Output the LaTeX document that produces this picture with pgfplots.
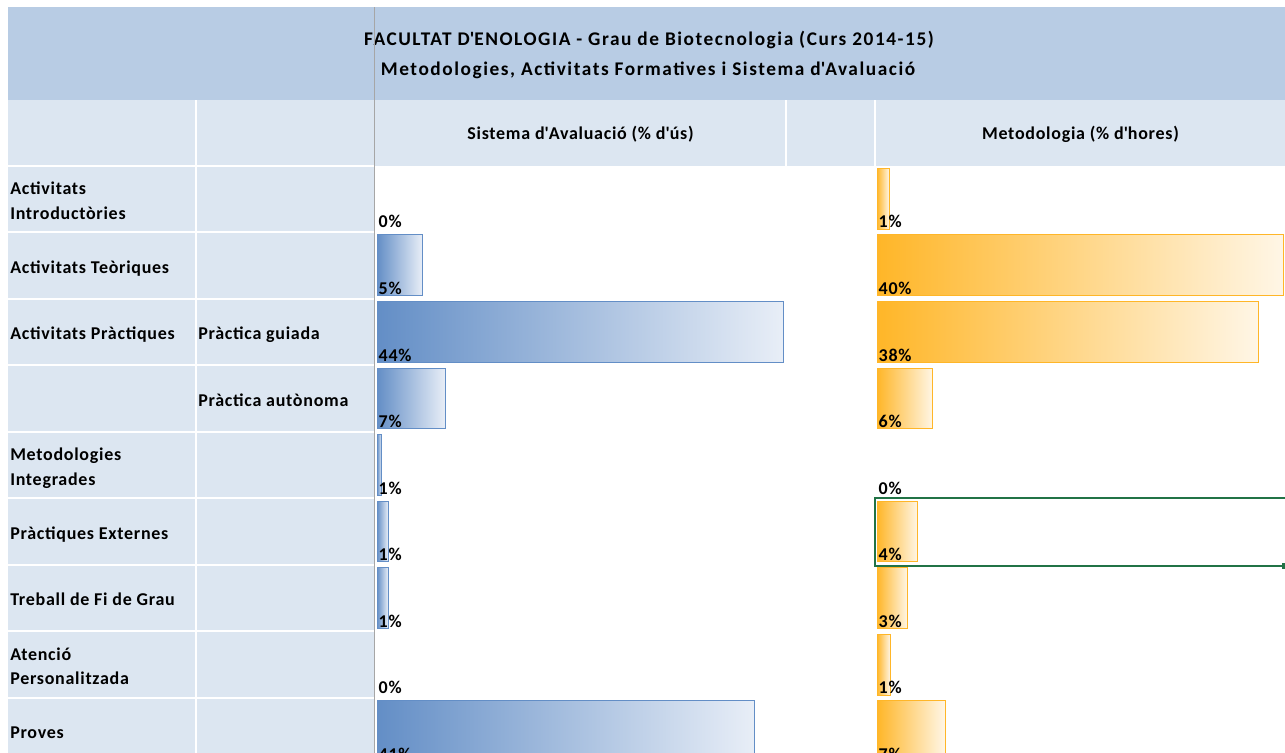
\documentclass[border=0pt]{standalone}
\usepackage{pgfplots}
\pgfplotsset{compat=1.18}
\usepackage{pgfplotstable}
\usepackage{fontspec}
\setmainfont{Carlito}
\newfontfamily\lblfont{Carlito}[LetterSpace=4]
\newfontfamily\ttlfont{Carlito}[LetterSpace=8]
\definecolor{hdrA}{HTML}{B8CCE4}
\definecolor{hdrB}{HTML}{DCE6F1}
\definecolor{barB}{HTML}{638EC6}
\definecolor{barBl}{HTML}{E8EEF7}
\definecolor{barO}{HTML}{FFB628}
\definecolor{barOl}{HTML}{FFF6E6}
\definecolor{selG}{HTML}{217346}
\definecolor{frz}{HTML}{A6A6A6}

% Sistema d'Avaluacio (% d'us)
\pgfplotstableread{
row val lab
0 0    0
1 4.9  5
2 44   44
3 7.4  7
4 0.5  1
5 1.2  1
6 1.2  1
7 0    0
8 40.9 41
}\avTable
% Metodologia (% d'hores)
\pgfplotstableread{
row val lab
0 1.2  1
1 40   40
2 37.6 38
3 5.5  6
4 0    0
5 4.0  4
6 3.0  3
7 1.3  1
8 6.7  7
}\meTable

\newcommand{\cf}{\lblfont\bfseries\fontsize{13.5}{15}\selectfont}
\newcommand{\tf}{\ttlfont\bfseries\fontsize{14.5}{16}\selectfont}
\newcommand{\q}{\textquotesingle}

\begin{document}
\begin{tikzpicture}[x=0.75pt,y=-0.75pt]
\useasboundingbox (0,0) rectangle (1285,753);
\clip (0,0) rectangle (1285,753);
\fill[white] (0,0) rectangle (1285,753);
% header bands
\fill[hdrA] (8,7) rectangle (1285,99.5);
\fill[hdrB] (8,100) rectangle (1285,165.5);
\fill[hdrB] (8,165.5) rectangle (374,753);
% white separators
\draw[white, line width=1.5pt] (195.5,100) -- (195.5,753);
\draw[white, line width=1.5pt] (786,100) -- (786,165.5);
\draw[white, line width=1.5pt] (875,100) -- (875,165.5);
\foreach \yy in {165.5,232.1,298.6,365.2,431.7,498.3,564.9,631.4,698.0}
  \draw[white, line width=1.5pt] (8,\yy) -- (374,\yy);
% titles
\node[anchor=base, inner sep=0pt, font=\tf] at (649,45) {FACULTAT D\q ENOLOGIA - Grau de Biotecnologia (Curs 2014-15)};
\node[anchor=base, inner sep=0pt, font=\tf] at (648,75) {Metodologies, Activitats Formatives i Sistema d\q Avaluació};
\node[anchor=base, inner sep=0pt, font=\cf] at (580.5,139.5) {Sistema d\q Avaluació (\% d\q ús)};
\node[anchor=base, inner sep=0pt, font=\cf] at (1080.5,139.5) {Metodologia (\% d\q hores)};
% row labels
\begin{scope}[every node/.style={anchor=base west, inner sep=0pt, font=\cf}]
\node at (10,194.5) {Activitats};
\node at (10,219) {Introductòries};
\node at (10,273) {Activitats Teòriques};
\node at (10,339.5) {Activitats Pràctiques};
\node at (198,339.5) {Pràctica guiada};
\node at (198,406) {Pràctica autònoma};
\node at (10,460.7) {Metodologies};
\node at (10,485) {Integrades};
\node at (10,539.2) {Pràctiques Externes};
\node at (10,605.8) {Treball de Fi de Grau};
\node at (10,660.4) {Atenció};
\node at (10,684.8) {Personalitzada};
\node at (10,738.8) {Proves};
\end{scope}
\coordinate (cC) at (376,165.5);
\coordinate (cE) at (876,165.5);
% Sistema d'Avaluacio bars
\begin{axis}[at={(cC)}, anchor=north west, scale only axis,
  width=306.75pt, height=440.625pt,
  xmin=-0.108, xmax=44.217, ymin=-0.5, ymax=8.327, y dir=reverse,
  hide axis, bar width=0.912]
\pgfplotsinvokeforeach{0,...,8}{
\addplot[xbar, draw=barB, line width=0.75pt, left color=barB, right color=barBl,
  x filter/.expression={x==0 ? nan : x}, restrict y to domain=#1:#1]
  table[x=val, y=row]{\avTable};
}
\addplot[draw=none, mark=none, point meta=explicit symbolic,
  nodes near coords={\pgfplotspointmeta\%},
  nodes near coords style={anchor=base west, inner sep=0pt, font=\cf, text=black, xshift=1.1pt, yshift=-21.9pt}]
  table[x expr=0, y=row, meta=lab]{\avTable};
\end{axis}
% Metodologia bars
\begin{axis}[at={(cE)}, anchor=north west, scale only axis,
  width=306.75pt, height=440.625pt,
  xmin=-0.0985, xmax=40.197, ymin=-0.5, ymax=8.327, y dir=reverse,
  hide axis, bar width=0.912]
\pgfplotsinvokeforeach{0,...,8}{
\addplot[xbar, draw=barO, line width=0.75pt, left color=barO, right color=barOl,
  x filter/.expression={x==0 ? nan : x}, restrict y to domain=#1:#1]
  table[x=val, y=row]{\meTable};
}
\addplot[draw=none, mark=none, point meta=explicit symbolic,
  nodes near coords={\pgfplotspointmeta\%},
  nodes near coords style={anchor=base west, inner sep=0pt, font=\cf, text=black, xshift=1.1pt, yshift=-21.9pt}]
  table[x expr=0, y=row, meta=lab]{\meTable};
\end{axis}
% freeze pane line
\draw[frz, line width=1.1pt] (374.5,7) -- (374.5,753);
% selected cell
\draw[selG, line width=1.5pt] (875,498.3) rectangle (1292,565.8);
\fill[selG] (1281.5,563) rectangle (1287,569);
\end{tikzpicture}
\end{document}
